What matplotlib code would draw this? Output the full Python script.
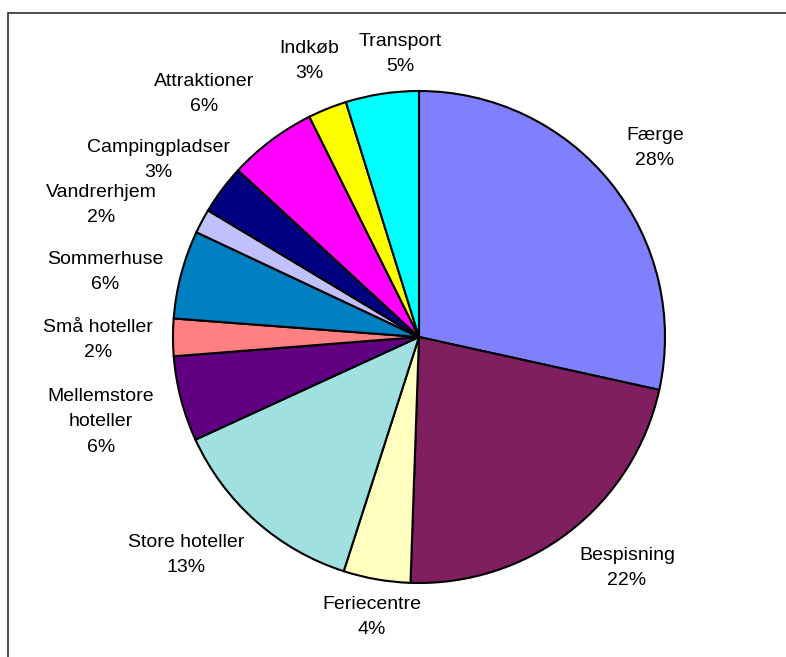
import textwrap
import numpy as np
import matplotlib.pyplot as plt
from matplotlib.patches import Rectangle

plt.rcParams['font.family'] = ['Liberation Sans', 'DejaVu Sans']

# shares of spending, clockwise from 12 o'clock
categories = ['Færge', 'Bespisning', 'Feriecentre', 'Store hoteller',
              'Mellemstore hoteller', 'Små hoteller', 'Sommerhuse',
              'Vandrerhjem', 'Campingpladser', 'Attraktioner', 'Indkøb',
              'Transport']
shares = [28.45, 22.1, 4.4, 13.2, 5.6, 2.45, 5.8, 1.6, 3.25, 5.8, 2.55, 4.8]
colors = ['#8080FF', '#7F1F5F', '#FFFFC0', '#A0E0E0', '#600080', '#FF8080',
          '#0080C0', '#C0C0FF', '#000080', '#FF00FF', '#FFFF00', '#00FFFF']

# label centres in pixels from top-left (layout only)
label_xy = [(655, 148), (627, 568), (372, 617), (186, 555), (101, 422),
            (98, 340), (105, 272), (101, 205), (158, 160), (204, 94),
            (309, 61), (400, 54)]

W, H = 786, 657
fig = plt.figure(figsize=(W / 100, H / 100), dpi=100)
ax = fig.add_axes([0, 0, 1, 1])

cx, cy, r = 419, H - 337, 246
wedges, _ = ax.pie(shares, colors=colors, startangle=90, counterclock=False,
                   center=(cx, cy), radius=r, frame=True,
                   wedgeprops=dict(edgecolor='black', linewidth=1.5))
ax.set_xlim(0, W)
ax.set_ylim(0, H)
ax.axis('off')

# outer chart frame (cropped at right and bottom)
ax.add_patch(Rectangle((7.5, -20), 900, H - 12.5 + 20, fill=False,
                       edgecolor='#303030', linewidth=1.2))

for name, v, (lx, ly) in zip(categories, shares, label_xy):
    txt = textwrap.fill(name, 14) + '\n' + f'{v:.0f}%'
    ax.text(lx, H - ly, txt, ha='center', va='center', fontsize=14,
            linespacing=1.68, multialignment='center')

fig.savefig('out.png', dpi=100)
